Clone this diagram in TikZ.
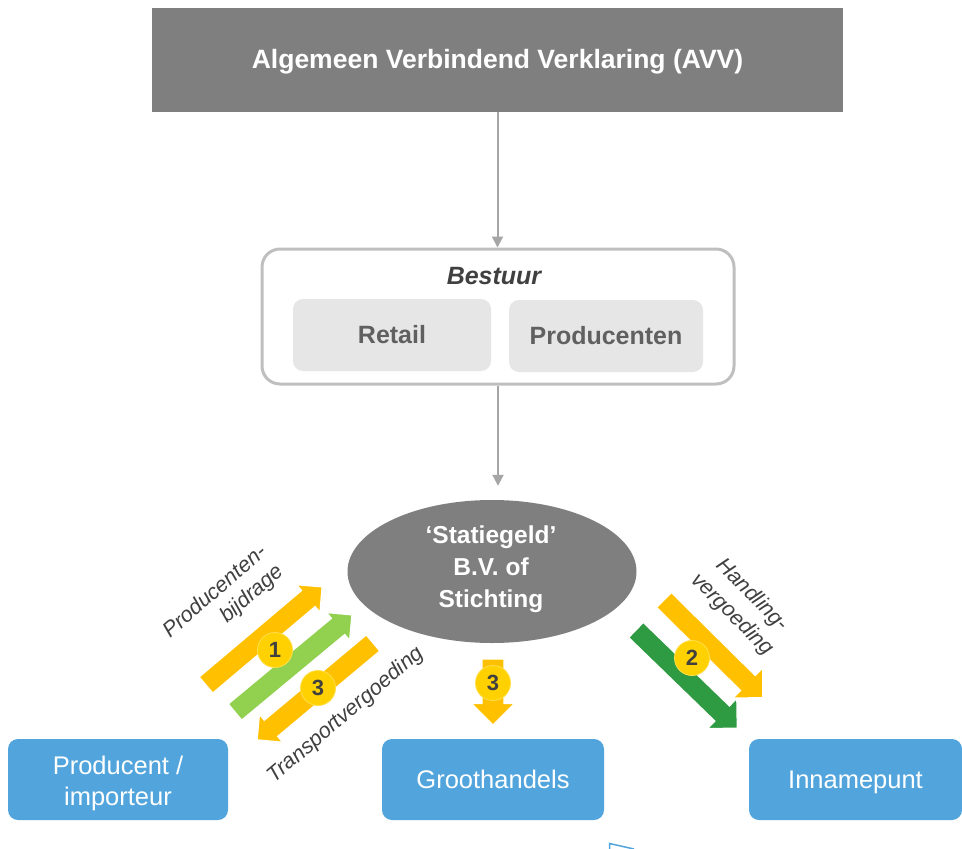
\documentclass[tikz,border=0pt]{standalone}
\usepackage{fontspec}
\setmainfont{Liberation Sans}
\usetikzlibrary{arrows.meta,shapes.geometric}
\definecolor{boxgray}{HTML}{7F7F7F}
\definecolor{conngray}{HTML}{A6A6A6}
\definecolor{framegray}{HTML}{BFBFBF}
\definecolor{innergray}{HTML}{E6E6E6}
\definecolor{innertext}{HTML}{606060}
\definecolor{darktext}{HTML}{404040}
\definecolor{bluebox}{HTML}{52A5DC}
\definecolor{orangearr}{HTML}{FFC000}
\definecolor{lgreenarr}{HTML}{92D050}
\definecolor{dgreenarr}{HTML}{2E9A41}
\definecolor{yellowc}{HTML}{FFD100}
\newcommand{\barrow}[6]{%
  \filldraw[fill=#1, draw=white, line width=1.2pt, shift={(#2)}, rotate=#3]
    (0,-#5) -- ({#4-#6},-#5) -- ({#4-#6},-#6) -- (#4,0) -- ({#4-#6},#6) -- ({#4-#6},#5) -- (0,#5) -- cycle;}
\begin{document}
\begin{tikzpicture}[x=1pt,y=-1pt,
  darkbox/.style={rectangle, fill=boxgray, inner sep=0pt},
  innerbox/.style={rectangle, rounded corners=10pt, fill=innergray, inner sep=0pt,
    text=innertext, font=\fontsize{25}{30}\selectfont\bfseries},
  bluenode/.style={rectangle, rounded corners=10pt, fill=bluebox, inner sep=0pt,
    text=white, align=center, text depth=0pt, font=\fontsize{25.5}{31}\selectfont},
  conn/.style={draw=conngray, line width=2pt, -{Triangle[width=11pt,length=11pt]}},
  lab/.style={inner sep=0pt, text=darktext, font=\fontsize{21.5}{26}\selectfont\itshape},
  numc/.style={circle, fill=yellowc, draw=yellowc!70!white, line width=0.8pt,
    minimum size=35pt, inner sep=0pt, text=darktext,
    font=\fontsize{22}{24}\selectfont\bfseries}]
\useasboundingbox (0,0) rectangle (962,849);
\fill[white] (0,0) rectangle (962,849);

% top box
\node[darkbox, minimum width=691pt, minimum height=104pt] (avv) at (497.5,60) {};
\node[inner sep=0pt, text=white, font=\fontsize{26.5}{30}\selectfont\bfseries]
  (avvtext) at (497.5,62) {Algemeen Verbindend Verklaring (AVV)};

% Bestuur frame
\node[rectangle, draw=framegray, line width=3pt, rounded corners=18pt,
  minimum width=472pt, minimum height=135pt, inner sep=0pt] (bestuur) at (498,316.5) {};
\node[inner sep=0pt, text=darktext, font=\fontsize{25}{30}\selectfont\bfseries\itshape]
  (bestuurlbl) at (494,276) {Bestuur};
\node[innerbox, minimum width=198pt, minimum height=72pt] (retail) at (392,335) {Retail};
\node[innerbox, minimum width=194pt, minimum height=72pt] (prod) at (606,336) {Producenten};

% ellipse
\node[ellipse, fill=boxgray, minimum width=289pt, minimum height=143pt, inner sep=0pt]
  (stat) at (492,571.5) {};
\node[inner sep=0pt, text=white, align=center,
  font=\fontsize{24.5}{32}\selectfont\bfseries] (stattext) at (491,569)
  {‘Statiegeld’\\B.V. of\\Stichting};

% blue boxes
\node[bluenode, minimum width=220pt, minimum height=81pt] (producent) at (118,779.5) {};
\node[inner sep=0pt, text=white, align=center, font=\fontsize{25.5}{31}\selectfont]
  (producenttext) at (118,783) {Producent /\\importeur};
\node[bluenode, minimum width=222pt, minimum height=81pt] (groot) at (493,779.5)
  {Groothandels};
\node[bluenode, minimum width=213pt, minimum height=81pt] (inname) at (855.5,779.5)
  {Innamepunt};

% connectors
\draw[conn] (avv.south) -- (avv.south |- bestuur.north);
\draw[conn, shorten >=14pt] (bestuur.south) -- (bestuur.south |- stat.north);

% block arrows left
\barrow{orangearr}{206,685}{40.2}{152}{10.5}{18}
\barrow{lgreenarr}{235,712}{39.7}{152}{10.5}{18}
\barrow{orangearr}{373,643}{219.9}{151}{10.5}{18}
% block arrows right
\barrow{orangearr}{664,600}{-44.7}{139}{10.5}{21}
\barrow{dgreenarr}{636,630}{-44.1}{141}{10.5}{21}
% middle arrow
\barrow{orangearr}{493,659}{-90}{66}{11}{21.5}

% number circles
\node[numc] (c1) at (275,650) {1};
\node[numc] (c3a) at (318,688) {3};
\node[numc] (c2) at (692,658) {2};
\node[numc] (c3b) at (493,683) {3};

% labels
\node[lab, rotate=41, align=right] (lprod) at (224,602) {Producenten-\\bijdrage};
\node[lab, rotate=40.4] (ltrans) at (346,715) {Transportvergoeding};
\node[lab, rotate=-45, align=center, font=\fontsize{21.5}{28}\selectfont\itshape]
  (lhand) at (742,605) {Handling-\\vergoeding};

% clipped fragment at bottom edge
\draw[bluebox, line width=1.5pt] (609.5,849) -- (609.5,843.5) -- (634,849);
\end{tikzpicture}
\end{document}
